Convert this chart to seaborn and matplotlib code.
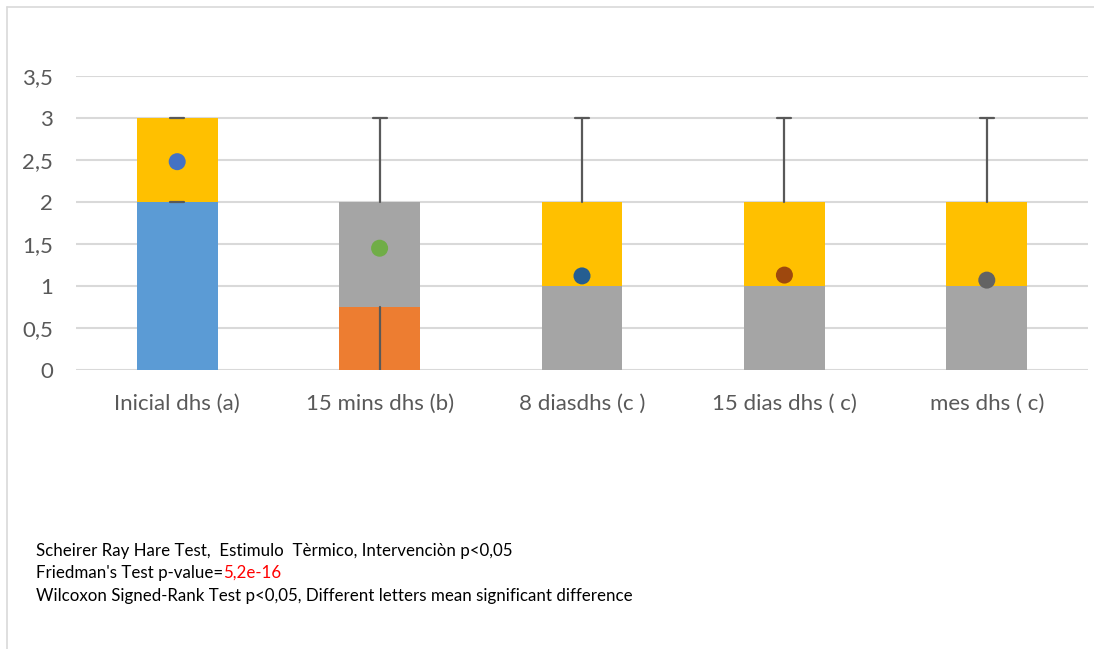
import matplotlib
matplotlib.use("Agg")
from matplotlib import pyplot as plt
from matplotlib.lines import Line2D
import pandas as pd
import seaborn as sns

# data
categories = ["Inicial dhs (a)", "15 mins dhs (b)", "8 diasdhs (c )", "15 dias dhs ( c)", "mes dhs ( c)"]
bottom_part = [2.0, 0.75, 1.0, 1.0, 1.0]
top_part = [1.0, 1.25, 1.0, 1.0, 1.0]
whisker_low = [2.0, 0.0, 1.0, 1.0, 1.0]
whisker_high = [3.0, 3.0, 3.0, 3.0, 3.0]
means = [2.48, 1.45, 1.12, 1.13, 1.07]

bottom_colors = ["#5B9BD5", "#ED7D31", "#A5A5A5", "#A5A5A5", "#A5A5A5"]
top_colors = ["#FFC000", "#A5A5A5", "#FFC000", "#FFC000", "#FFC000"]
mean_colors = ["#4472C4", "#70AD47", "#255E91", "#9E480E", "#636363"]

notes = [
    "Scheirer Ray Hare Test,  Estimulo  Tèrmico, Intervenciòn p<0,05",
    "Friedman's Test p-value=",
    "Wilcoxon Signed-Rank Test p<0,05, Different letters mean significant difference",
]
p_value = "5,2e-16"

df = pd.DataFrame({
    "cat": categories,
    "bottom": bottom_part,
    "total": [b + t for b, t in zip(bottom_part, top_part)],
    "mean": means,
})

sns.set_style("white")
plt.rcParams["font.family"] = ["Lato", "DejaVu Sans"]

W, H = 1094, 649
fig = plt.figure(figsize=(W / 100, H / 100), dpi=100)
ax = fig.add_axes([76 / W, (H - 370) / H, (1088 - 76) / W, (370 - 76) / H])

# outer chart border (left and top only, the rest is cropped off)
fig.lines.append(Line2D([7 / W, 7 / W], [0, 1 - 7 / H], transform=fig.transFigure,
                        color="#D9D9D9", lw=1.2))
fig.lines.append(Line2D([7 / W, 1], [1 - 7 / H, 1 - 7 / H], transform=fig.transFigure,
                        color="#D9D9D9", lw=1.2))

ax.set_ylim(0, 3.5)
ax.set_yticks([0, 0.5, 1, 1.5, 2, 2.5, 3, 3.5])
ax.set_yticklabels(["0", "0,5", "1", "1,5", "2", "2,5", "3", "3,5"])
ax.grid(axis="y", color="#D9D9D9", lw=1.5, zorder=0)
ax.set_axisbelow(True)

# stacked box segments
sns.barplot(data=df, x="cat", y="total", hue="cat", palette=top_colors,
            width=0.4, legend=False, ax=ax, saturation=1, linewidth=0, zorder=2)
sns.barplot(data=df, x="cat", y="bottom", hue="cat", palette=bottom_colors,
            width=0.4, legend=False, ax=ax, saturation=1, linewidth=0, zorder=3)
ax.set_xlim(-0.5, 4.5)

# whiskers
for i in range(len(categories)):
    lo_box = bottom_part[i]
    hi_box = bottom_part[i] + top_part[i]
    ax.plot([i, i], [whisker_low[i], lo_box], color="#595959", lw=1.6, zorder=4)
    ax.plot([i, i], [hi_box, whisker_high[i]], color="#595959", lw=1.6, zorder=4)
    ax.plot([i - 0.035, i + 0.035], [whisker_high[i]] * 2, color="#595959", lw=1.6, zorder=4)
    if i == 0:
        ax.plot([i - 0.035, i + 0.035], [whisker_low[i]] * 2, color="#595959", lw=1.6, zorder=4)

# means
sns.scatterplot(data=df, x="cat", y="mean", hue="cat", palette=mean_colors,
                s=150, edgecolor="none", legend=False, ax=ax, zorder=5)

for s in ax.spines.values():
    s.set_visible(False)
ax.tick_params(axis="both", length=0, labelsize=16, labelcolor="#595959")
ax.tick_params(axis="y", pad=16.5)
ax.tick_params(axis="x", pad=17)
ax.set_xlabel("")
ax.set_ylabel("")

# footnotes
ys = [551, 573, 596]
texts = []
for txt, y in zip(notes, ys):
    texts.append(fig.text(36 / W, 1 - y / H, txt, fontsize=12.2, color="black",
                          va="center", ha="left"))
fig.canvas.draw()
bb = texts[1].get_window_extent()
fig.text(bb.x1 / W, 1 - ys[1] / H, p_value, fontsize=12.2, color="#FF0000",
         va="center", ha="left")

fig.savefig("out.png", dpi=100)
